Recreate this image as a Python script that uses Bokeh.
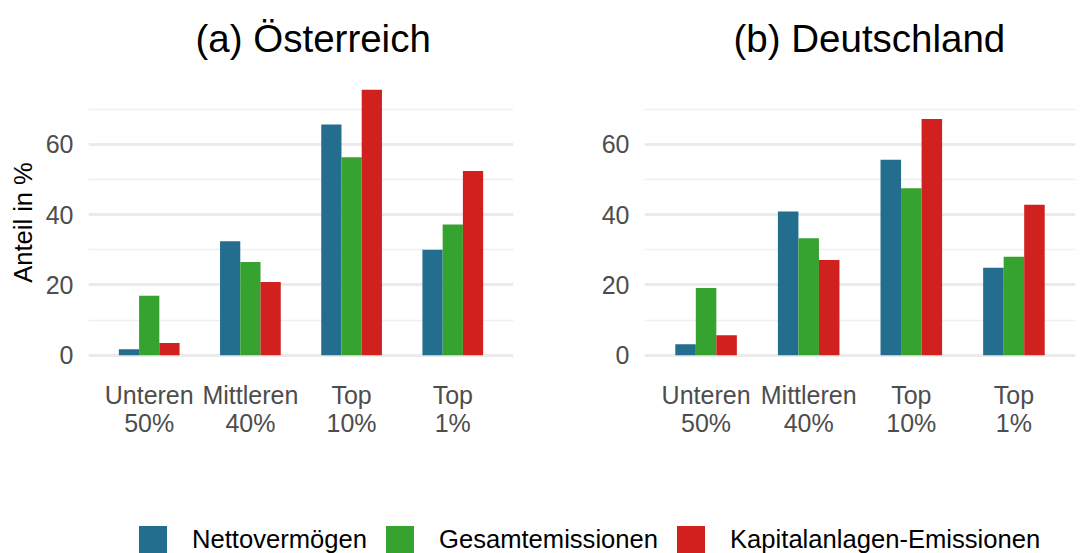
from bokeh.plotting import figure
from bokeh.models import FactorRange, Range1d, FixedTicker, Legend, LegendItem
from bokeh.transform import dodge
from bokeh.layouts import column, row
from bokeh.embed import file_html
from bokeh.resources import INLINE

# ---- data ----
groups = ["Unteren\n50%", "Mittleren\n40%", "Top\n10%", "Top\n1%"]
series = ["Nettovermögen", "Gesamtemissionen", "Kapitalanlagen-Emissionen"]
colors = ["#236E8F", "#36A22F", "#D0211F"]

at_netto = [1.7, 32.4, 65.6, 30.0]
at_gesamt = [16.9, 26.5, 56.3, 37.2]
at_kapital = [3.5, 20.8, 75.5, 52.4]

de_netto = [3.1, 40.9, 55.6, 24.9]
de_gesamt = [19.1, 33.3, 47.5, 28.0]
de_kapital = [5.7, 27.1, 67.2, 42.8]

y_ticks = [0, 20, 40, 60]
y_minor = [10, 30, 50, 70]

titles = ["(a) Österreich", "(b) Deutschland"]
y_label = "Anteil in %"

FONT = "Liberation Sans"
ymax = max(at_netto + at_gesamt + at_kapital + de_netto + de_gesamt + de_kapital)


def panel(title, vals, width, bl, br, title_off, ylab):
    p = figure(
        x_range=FactorRange(factors=groups, range_padding=0.1, range_padding_units="absolute"),
        y_range=Range1d(-0.05 * ymax, 1.05 * ymax),
        width=width, height=445,
        min_border_left=bl, min_border_right=br, min_border_top=76, min_border_bottom=77,
        output_backend="svg", toolbar_location=None,
    )
    offsets = [-0.2, 0.0, 0.2]
    for v, c, off in zip(vals, colors, offsets):
        p.vbar(x=dodge("x", off, range=p.x_range), top="top", width=0.2,
               source=dict(x=groups, top=v), fill_color=c, line_color=None)
    p.title.text = title
    p.title.text_font = FONT
    p.title.text_font_size = "38.5px"
    p.title.text_font_style = "normal"
    p.title.text_color = "black"
    p.title.align = "left"
    p.title.vertical_align = "top"
    p.title.offset = title_off
    p.title.standoff = 30
    p.outline_line_color = None
    p.background_fill_color = "white"
    p.border_fill_color = "white"
    p.xgrid.grid_line_color = None
    p.yaxis.ticker = FixedTicker(ticks=y_ticks, minor_ticks=y_minor)
    p.ygrid.grid_line_color = "#EBEBEB"
    p.ygrid.grid_line_width = 3
    p.ygrid.minor_grid_line_color = "#EFEFEF"
    p.ygrid.minor_grid_line_width = 1.5
    for ax in (p.xaxis, p.yaxis):
        ax.axis_line_color = None
        ax.major_tick_line_color = None
        ax.minor_tick_line_color = None
        ax.major_tick_out = 0
        ax.major_tick_in = 0
        ax.minor_tick_out = 0
        ax.minor_tick_in = 0
        ax.major_label_text_font = FONT
        ax.major_label_text_font_size = "25px"
        ax.major_label_text_color = "#4D4D4D"
    p.xaxis.major_label_standoff = 12
    p.xaxis.major_label_text_line_height = 1.0
    p.yaxis.major_label_standoff = 15
    if ylab:
        p.yaxis.axis_label = ylab
        p.yaxis.axis_label_text_font = FONT
        p.yaxis.axis_label_text_font_size = "25.5px"
        p.yaxis.axis_label_text_font_style = "normal"
        p.yaxis.axis_label_text_color = "black"
        p.yaxis.axis_label_standoff = 6
    return p


pa = panel(titles[0], [at_netto, at_gesamt, at_kapital], 545, 88, 32, 107, y_label)
pb = panel(titles[1], [de_netto, de_gesamt, de_kapital], 538, 99, 8, 89, None)

# ---- legend strip (series lie outside the visible range, only their legend entries show) ----
lf = figure(width=1083, height=108, x_range=FactorRange(factors=groups), y_range=Range1d(1000, 1001),
            x_axis_type=None, y_axis_type=None, min_border=0,
            output_backend="svg", toolbar_location=None)
lf.outline_line_color = None
lf.xgrid.grid_line_color = None
lf.ygrid.grid_line_color = None
items = []
for s, c, v in zip(series, colors, [at_netto, at_gesamt, at_kapital]):
    r = lf.vbar(x=groups, top=v, width=0.2, fill_color=c, line_color=None)
    items.append(LegendItem(label=s, renderers=[r]))
leg = Legend(items=items, orientation="horizontal", location=(135, -8),
             glyph_width=35, glyph_height=35, label_standoff=22, spacing=15,
             padding=0, margin=0, border_line_color=None, background_fill_alpha=0,
             label_text_font=FONT, label_text_font_size="25.6px", label_text_color="black",
             label_height=43)
lf.add_layout(leg)

layout = column(row(pa, pb), lf)
open("out.html", "w").write(file_html(layout, INLINE))
